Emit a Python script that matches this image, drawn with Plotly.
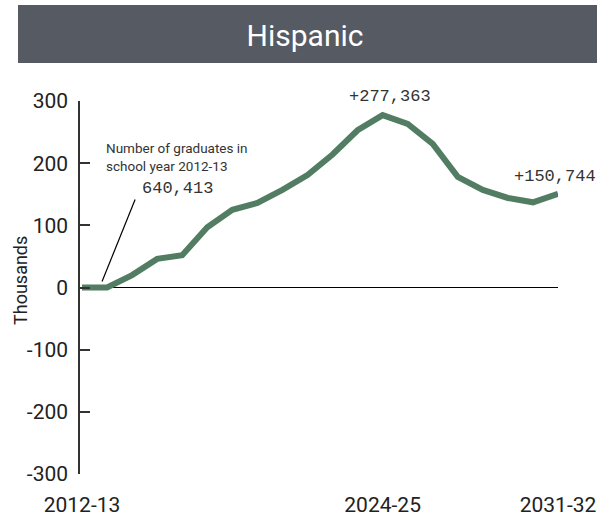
import plotly.graph_objects as go

years = ["2012-13", "2013-14", "2014-15", "2015-16", "2016-17", "2017-18", "2018-19",
         "2019-20", "2020-21", "2021-22", "2022-23", "2023-24", "2024-25", "2025-26",
         "2026-27", "2027-28", "2028-29", "2029-30", "2030-31", "2031-32"]
change_thousands = [0, 0, 20, 46, 52, 97, 125, 136, 157, 181, 214, 253, 277.363,
                    263, 231, 178, 157, 144, 137, 150.744]
tick_years = ["2012-13", "2024-25", "2031-32"]
yticks = [-300, -200, -100, 0, 100, 200, 300]
ytick_text = ["-300", "-200", "-100", "0", "100", "200", "300"]
y_title = "Thousands"
base_count = "640,413"
peak_label = "+277,363"
end_label = "+150,744"
title_text = "Hispanic"

x_idx = list(range(len(years)))
tick_idx = [years.index(t) for t in tick_years]
peak_i = change_thousands.index(max(change_thousands))

fig = go.Figure()
fig.add_trace(go.Scatter(
    x=x_idx, y=change_thousands, mode="lines",
    line=dict(color="#527d62", width=6, shape="linear"),
    hoverinfo="skip", showlegend=False, cliponaxis=False,
))

fig.update_layout(
    width=606, height=520,
    margin=dict(l=80, r=48, t=101, b=46, pad=0),
    paper_bgcolor="white", plot_bgcolor="white",
    font=dict(family="Roboto", color="#222"),
    title=dict(text=title_text, x=305 / 606, xref="container", y=1 - 35 / 520,
               yref="container", xanchor="center", yanchor="middle",
               font=dict(family="Roboto", size=30, color="white")),
    xaxis=dict(range=[-0.08, 19.0], tickvals=tick_idx, ticktext=tick_years,
               showgrid=False, zeroline=False, showline=False, ticks="",
               automargin=False,
               tickfont=dict(size=21, color="#222"), ticklabelstandoff=16),
    yaxis=dict(range=[-300, 300], tickvals=yticks, ticktext=ytick_text, showgrid=False,
               zeroline=True, zerolinecolor="black", zerolinewidth=1,
               showline=True, linecolor="#333", linewidth=1.5, automargin=False,
               ticks="inside", ticklen=10, tickwidth=1.5, tickcolor="#333",
               tickfont=dict(size=21, color="#222"), ticklabelstandoff=6),
)

# y-axis title
fig.add_annotation(x=(20 - 80) / 478, y=(474 - 281) / 373, xref="paper", yref="paper",
                   text=y_title, textangle=-90, showarrow=False,
                   xanchor="center", yanchor="middle",
                   font=dict(family="Roboto", size=18, color="#222"))

# title bar
fig.add_shape(type="rect", xref="paper", yref="paper",
              x0=(18 - 80) / 478, x1=(597 - 80) / 478,
              y0=(474 - 63) / 373, y1=(474 - 5) / 373,
              fillcolor="#565a63", line=dict(width=0), layer="below")

# base-year annotation
fig.add_annotation(x=0.88, y=210, xref="x", yref="y", xanchor="left", yanchor="middle",
                   text="Number of graduates in<br>school year 2012-13", showarrow=False,
                   align="left", font=dict(family="Roboto", size=13.5, color="#333"))
fig.add_annotation(x=3.8, y=159, xref="x", yref="y", xanchor="center", yanchor="middle",
                   text=base_count, showarrow=False,
                   font=dict(family="Liberation Mono", size=17, color="#333"))
fig.add_shape(type="line", xref="x", yref="y", x0=0.8, y0=9.6, x1=2.12, y1=141.5,
              line=dict(color="black", width=1.2))

fig.add_annotation(x=peak_i + 0.28, y=277.363, xref="x", yref="y", xanchor="center",
                   yanchor="middle", yshift=19, text=peak_label, showarrow=False,
                   font=dict(family="Liberation Mono", size=17, color="#333"))
fig.add_annotation(x=len(years) - 1 - 0.1, y=179, xref="x", yref="y", xanchor="center",
                   yanchor="middle", text=end_label, showarrow=False,
                   font=dict(family="Liberation Mono", size=17, color="#333"))

fig.write_html("out.html")
